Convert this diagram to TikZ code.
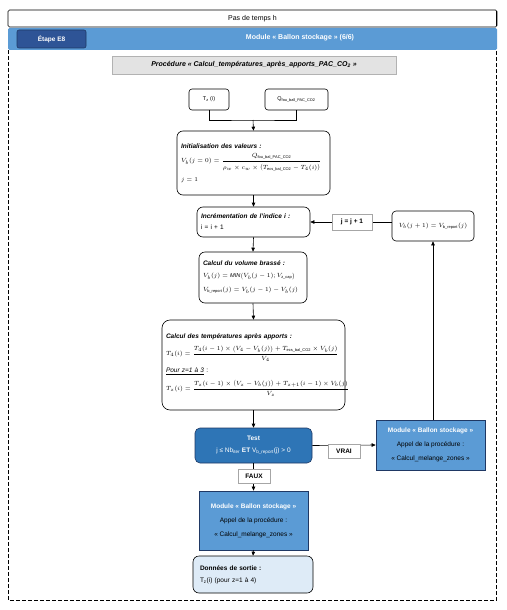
\documentclass[tikz,border=0pt]{standalone}
\usepackage{fontspec}
\setmainfont{Liberation Sans}
\usepackage{amsmath}
\usetikzlibrary{arrows.meta,calc}
\definecolor{bandblue}{RGB}{91,155,213}
\definecolor{darkblue}{RGB}{46,84,150}
\definecolor{testblue}{RGB}{46,117,182}
\definecolor{edgeblue}{RGB}{31,56,100}
\definecolor{lightblue}{RGB}{222,235,247}
\definecolor{procgray}{RGB}{227,227,227}
\newcommand{\fm}[1]{\mbox{\fontsize{5.6}{7}\selectfont$\displaystyle #1$}}
\newcommand{\sbt}[1]{\mathrm{#1}}
\begin{document}
\begin{tikzpicture}[x=1pt,y=-1pt,font=\fontsize{6.5}{8}\selectfont,
  rbox/.style={draw,rounded corners=6pt,line width=0.6pt,fill=white,align=left,inner sep=0pt},
  sqbox/.style={draw=edgeblue,line width=0.7pt,fill=bandblue,align=center,inner sep=0pt},
  lbl/.style={draw=gray!70,line width=0.5pt,fill=white,font=\fontsize{6.5}{8}\selectfont\bfseries,inner sep=0pt},
  arr/.style={-{Triangle[length=4pt,width=3.5pt]},line width=0.6pt},
  ln/.style={line width=0.6pt}]
\useasboundingbox (0,0) rectangle (506,610);
% header
\node[draw,line width=0.6pt,rounded corners=1.5pt,fill=white,minimum width=489pt,minimum height=17pt,inner sep=0pt,font=\fontsize{7}{8}\selectfont] (pas) at (252.5,18.5) {Pas de temps h};
\draw[line width=1.3pt] (496.3,11) -- (496.3,26.5);
\node[fill=bandblue,rounded corners=1.5pt,minimum width=489pt,minimum height=22pt,inner sep=0pt] (band) at (252.5,39) {};
\node[font=\fontsize{7}{8}\selectfont\bfseries,text=white] (modtitle) at (300,38) {Module « Ballon stockage » (6/6)};
\node[draw=edgeblue,line width=0.6pt,fill=darkblue,rounded corners=2pt,minimum width=69pt,minimum height=18pt,inner sep=0pt,text=white,font=\fontsize{6.5}{8}\selectfont\bfseries] (etape) at (51.5,39) {Étape E8};
% dashed frame
\draw[line width=0.6pt,dash pattern=on 4pt off 2pt] (8,50) -- (8,600) -- (496.5,600) -- (496.5,50);
% procedure
\node[draw=gray!60,line width=0.6pt,fill=procgray,minimum width=284pt,minimum height=18pt,inner sep=0pt,font=\fontsize{7}{8}\selectfont\bfseries\itshape] (proc) at (254,65) {Procédure « Calcul\_températures\_après\_apports\_PAC\_CO\textsubscript{2} »};
% inputs
\node[rbox,rounded corners=3pt,minimum width=40pt,minimum height=21pt,align=center,font=\fontsize{5.5}{7}\selectfont] (tz) at (209,99.5) {T\textsubscript{z} (i)};
\node[rbox,rounded corners=3pt,minimum width=63pt,minimum height=21pt,align=center,font=\fontsize{5.5}{7}\selectfont] (q) at (296.5,99.5) {Q\textsubscript{fou\_ball\_PAC\_CO2}};
\coordinate (join) at (253,120);
% init
\node[rbox,minimum width=153pt,minimum height=64pt,text width=145pt] (init) at (253.5,163) {\textbf{\textit{Initialisation des valeurs :}}\\[4pt]
\fm{V_b(j=0)=\frac{Q_{\sbt{fou\_bal\_PAC\_CO2}}\rule[-3pt]{0pt}{0pt}}{\rule{0pt}{7pt}\rho_w\times c_w\times\bigl(T_{\sbt{ecs\_bal\_CO2}}-T_4(i)\bigr)}}\\[5pt]
\fm{j=1}};
% incrementation
\node[rbox,minimum width=113pt,minimum height=30pt,text width=105pt] (inc) at (253.5,222) {\textbf{\textit{Incrémentation de l'indice i :}}\\[3pt] i = i + 1};
% volume
\node[rbox,minimum width=108pt,minimum height=51pt,text width=100pt] (vol) at (253,277.5) {\textbf{\textit{Calcul du volume brassé :}}\\[4pt]
\fm{V_b(j)=\mathit{MIN}\bigl(V_b(j-1);V_{\sbt{z\_cap}}\bigr)}\\[6pt]
\fm{V_{\sbt{b\_report}}(j)=V_b(j-1)-V_b(j)}};
% temperatures
\node[rbox,rounded corners=8pt,minimum width=183pt,minimum height=90pt,text width=175pt] (temp) at (253.5,365) {\textbf{\textit{Calcul des températures après apports :}}\\[5pt]
\fm{T_4(i)=\frac{T_4(i-1)\times\bigl(V_4-V_b(j)\bigr)+T_{\sbt{ecs\_bal\_CO2}}\times V_b(j)}{V_4}}\\[5pt]
\underline{\textit{Pour z=1 à 3}} :\\[5pt]
\fm{T_z(i)=\frac{T_z(i-1)\times\bigl(V_z-V_b(j)\bigr)+T_{z+1}(i-1)\times V_b(j)}{V_z}}};
% test
\node[draw=edgeblue,line width=0.6pt,fill=testblue,rounded corners=5pt,minimum width=117pt,minimum height=35pt,inner sep=0pt,align=center,text=white] (test) at (253.5,445.5) {\textbf{Test}\\[4pt] j ≤ Nb\textsubscript{iter} \textbf{ET} V\textsubscript{b\_report}(j) > 0};
% bottom module
\node[sqbox,minimum width=109pt,minimum height=59pt] (modb) at (253.5,520.5) {\textcolor{white}{\textbf{Module « Ballon stockage »}}\\[6pt] Appel de la procédure :\\[6pt] « Calcul\_melange\_zones »};
% output
\node[draw,line width=0.6pt,fill=lightblue,rounded corners=6pt,minimum width=120pt,minimum height=37pt,inner sep=0pt,text width=106pt,align=left] (out) at (253,574.5) {\textbf{Données de sortie :}\\[4pt] T\textsubscript{z}(i) (pour z=1 à 4)};
% right module
\node[sqbox,minimum width=109pt,minimum height=50pt] (modr) at (430.5,445) {\textcolor{white}{\textbf{Module « Ballon stockage »}}\\[6pt] Appel de la procédure :\\[6pt] « Calcul\_melange\_zones »};
% right formula
\node[rbox,rounded corners=4pt,minimum width=82pt,minimum height=30pt,align=center] (rf) at (433,226) {\fm{V_b(j+1)=V_{\sbt{b\_report}}(j)}};
% connectors
\draw[ln] (tz.south) |- (join) -| (q.south);
\draw[arr] (join) -- (init.north);
\draw[arr] (init.south) -- (inc.north);
\draw[arr] (inc.south) -- (vol.north);
\draw[arr] (vol.south) -- (temp.north);
\draw[arr] (temp.south) -- (test.north);
\draw[arr] (test.south) -- (modb.north);
\node[lbl,minimum width=32pt,minimum height=14pt] (faux) at (254,476) {FAUX};
\draw[arr] (modb.south) -- (out.north);
\draw[arr] (test.east) -- (modr.west);
\node[lbl,minimum width=32pt,minimum height=14pt] (vrai) at (344,451) {VRAI};
\draw[arr] (modr.north -| rf.south) -- (rf.south);
\draw[arr] (rf.west |- inc.east) -- (inc.east);
\node[lbl,minimum width=40pt,minimum height=16pt] (jj) at (352,222) {j = j + 1};
\end{tikzpicture}
\end{document}
